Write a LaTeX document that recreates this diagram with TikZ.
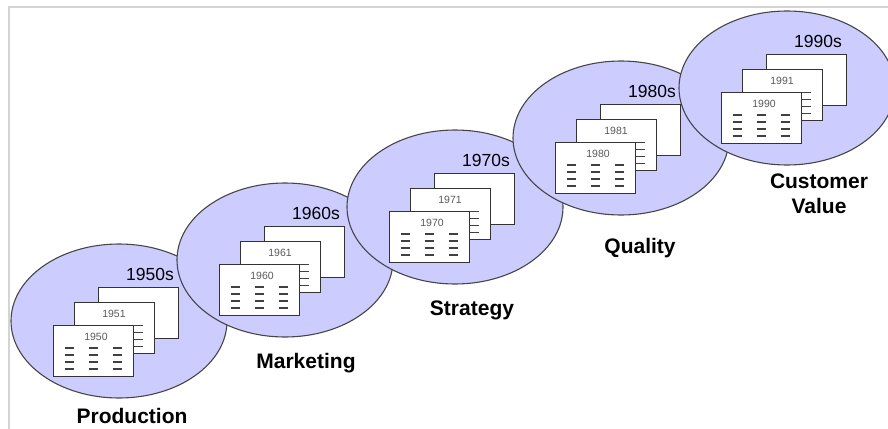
\documentclass[tikz,border=0pt]{standalone}
\usepackage{fontspec}
\setmainfont{Liberation Sans}
\usetikzlibrary{shapes.geometric,calc}
\definecolor{ellfill}{RGB}{204,204,255}
\definecolor{ellline}{RGB}{70,70,70}
\definecolor{framegray}{RGB}{212,212,212}
\definecolor{yeargray}{RGB}{90,90,90}
\tikzset{
  era/.style={ellipse, draw=ellline, line width=1.1pt, fill=ellfill,
    minimum width=216pt, minimum height=154pt, inner sep=0pt},
  card/.style={rectangle, draw=black!80, line width=0.9pt, fill=white,
    minimum width=80pt, minimum height=51pt, inner sep=0pt},
  dec/.style={font=\fontsize{17.5}{17.5}\selectfont, anchor=east, inner sep=0pt},
  yr/.style={font=\fontsize{10.5}{10.5}\selectfont, text=yeargray, inner sep=0pt},
  lbl/.style={font=\bfseries\fontsize{21}{25}\selectfont, align=center, inner sep=0pt},
  dsh/.style={draw=black!75, line width=1.6pt},
}
\newcommand\dashgrid[1]{%
  \foreach \dx in {-24,0,24}{\foreach \dy in {-2.5,4.5,11.5,18.5}{%
    \draw[dsh] ([xshift=\dx pt-4.5pt,yshift=-\dy pt]#1.center) -- ([xshift=\dx pt+4.5pt,yshift=-\dy pt]#1.center);}}}
% #1 id, #2 cx, #3 cy, #4 decade, #5 year middle card, #6 year front card
\newcommand\eragroup[6]{%
  \node[era] (e#1) at (#2,#3) {};
  \node[card] (b#1) at ($(e#1.center)+(19,-8)$) {};
  \node[card] (m#1) at ($(e#1.center)+(-5,7)$) {};
  \node[yr] (my#1) at ($(m#1.north)+(0,12)$) {#5};
  \dashgrid{m#1}
  \node[card] (f#1) at ($(e#1.center)+(-26,29.5)$) {};
  \node[yr] (fy#1) at ($(f#1.north)+(3,12)$) {#6};
  \dashgrid{f#1}
  \node[dec] (d#1) at ($(e#1.center)+(55,-47)$) {#4};
}
\begin{document}
\begin{tikzpicture}[x=1pt,y=-1pt]
\useasboundingbox (0,0) rectangle (888,428);
\clip (0,0) rectangle (888,428);
\draw[framegray, line width=1.4pt] (9,430) -- (9,7) -- (890,7);
\eragroup{1}{119}{321}{1950s}{1951}{1950}
\eragroup{2}{285}{260}{1960s}{1961}{1960}
\eragroup{3}{455}{207}{1970s}{1971}{1970}
\eragroup{4}{621}{138}{1980s}{1981}{1980}
\eragroup{5}{787}{88}{1990s}{1991}{1990}
\node[lbl] (l1) at (132,415.5) {Production};
\node[lbl] (l2) at (306,363) {Marketing};
\node[lbl] (l3) at (472,310) {Strategy};
\node[lbl] (l4) at (640,248) {Quality};
\node[lbl] (l5) at (819,194) {Customer\\Value};
\end{tikzpicture}
\end{document}
